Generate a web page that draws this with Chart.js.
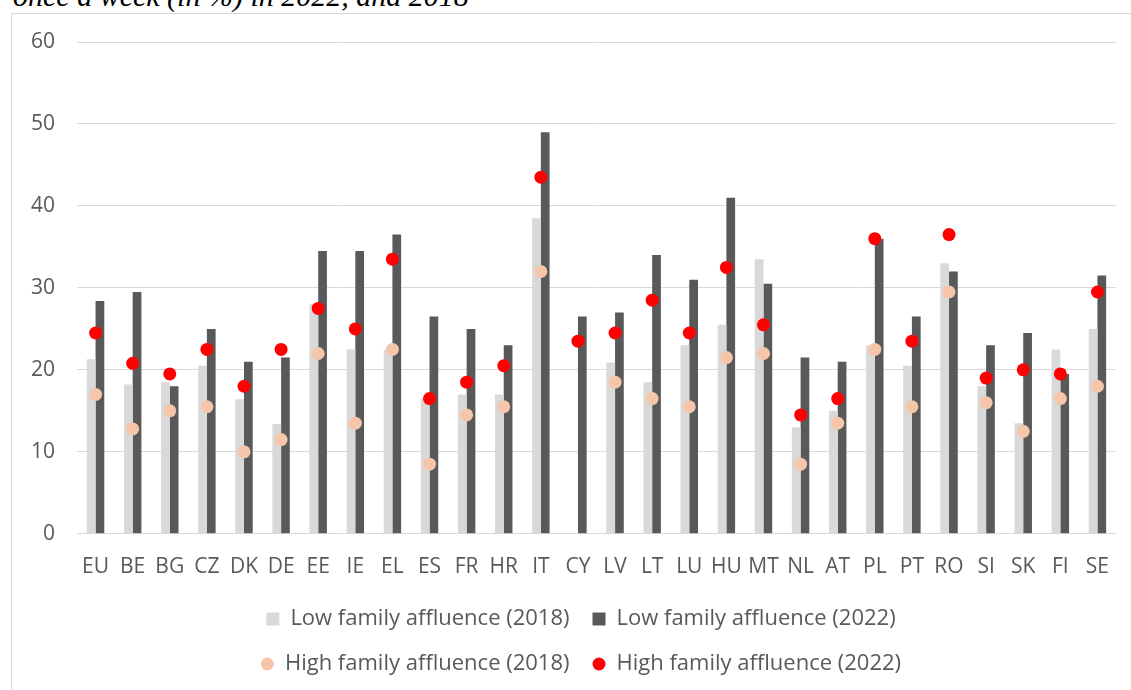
<!DOCTYPE html>
<html>
<head>
<meta charset="utf-8">
<script src="https://cdn.jsdelivr.net/npm/chart.js@4"></script>
<style>
  html, body { margin: 0; padding: 0; background: #fff; overflow: hidden; }
  #title {
    position: absolute; left: 13px; top: -19px;
    font: italic 30px/30px 'Liberation Serif', serif; color: #000; white-space: nowrap;
  }
  #frame {
    position: absolute; left: 11px; top: 13px; right: -5px; bottom: -5px;
    border: 1px solid #d9d9d9;
  }
  #wrap { position: absolute; left: 0; top: 0; width: 1131px; height: 690px; }
</style>
</head>
<body>
<div id="title">once a week (in %) in 2022, and 2018</div>
<div id="frame"></div>
<div id="wrap"><canvas id="chart"></canvas></div>
<script>
// Countries on the x axis
const countries = ['EU', 'BE', 'BG', 'CZ', 'DK', 'DE', 'EE', 'IE', 'EL', 'ES', 'FR', 'HR', 'IT', 'CY',
    'LV', 'LT', 'LU', 'HU', 'MT', 'NL', 'AT', 'PL', 'PT', 'RO', 'SI', 'SK', 'FI', 'SE'];

// Low family affluence (bars)
const low2018 = [21.3, 18.2, 18.5, 20.5, 16.4, 13.4, 28.0, 22.5, 22.5, 16.5, 17.0, 17.0, 38.5, null,
    20.9, 18.5, 23.0, 25.5, 33.5, 13.0, 15.0, 23.0, 20.5, 33.0, 18.0, 13.5, 22.5, 25.0];
const low2022 = [28.4, 29.5, 18.0, 25.0, 21.0, 21.5, 34.5, 34.5, 36.5, 26.5, 25.0, 23.0, 49.0, 26.5,
    27.0, 34.0, 31.0, 41.0, 30.5, 21.5, 21.0, 36.0, 26.5, 32.0, 23.0, 24.5, 19.5, 31.5];

// High family affluence (dots)
const high2018 = [17.0, 12.8, 15.0, 15.5, 10.0, 11.5, 22.0, 13.5, 22.5, 8.5, 14.5, 15.5, 32.0, null,
    18.5, 16.5, 15.5, 21.5, 22.0, 8.5, 13.5, 22.5, 15.5, 29.5, 16.0, 12.5, 16.5, 18.0];
const high2022 = [24.5, 20.8, 19.5, 22.5, 18.0, 22.5, 27.5, 25.0, 33.5, 16.5, 18.5, 20.5, 43.5, 23.5,
    24.5, 28.5, 24.5, 32.5, 25.5, 14.5, 16.5, 36.0, 23.5, 36.5, 19.0, 20.0, 19.5, 29.5];

const yTicks = [0, 10, 20, 30, 40, 50, 60];

Chart.defaults.font.family = "'Open Sans', sans-serif";
Chart.defaults.color = '#595959';

// legend: two items per row, centred under the plot
const LEGEND_W = 800;
const LEGEND_CX = 581;
const LEGEND_H = 78;      // space reserved in the layout
const legendRows = {
    id: 'legendRows',
    beforeUpdate(chart) {
        const lg = chart.legend;
        if (!lg || lg._rowsPatched) return;
        const orig = lg.update;
        lg.update = function (w, h, m) {
            orig.call(this, LEGEND_W, h, m);
            this._fullHeight = this.height;
            this.height = LEGEND_H;
        };
        lg._rowsPatched = true;
    },
    afterLayout(chart) {
        const lg = chart.legend;
        lg.left = LEGEND_CX - LEGEND_W / 2;
        lg.right = lg.left + LEGEND_W;
        lg.width = LEGEND_W;
        lg.top = 585;
        lg.height = lg._fullHeight || 100;
        lg.bottom = lg.top + lg.height;
    }
};

const ctx = document.getElementById('chart').getContext('2d');
new Chart(ctx, {
    type: 'bar',
    data: {
        labels: countries,
        datasets: [
            { label: 'Low family affluence (2018)', data: low2018, backgroundColor: '#d9d9d9', order: 3 },
            { label: 'Low family affluence (2022)', data: low2022, backgroundColor: '#595959', order: 4 },
            {
                type: 'line', label: 'High family affluence (2018)', data: high2018, showLine: false,
                backgroundColor: '#f5c6aa', borderColor: '#f5c6aa', pointRadius: 6.5, pointHoverRadius: 6.5,
                pointBorderWidth: 0, borderWidth: 0, order: 2
            },
            {
                type: 'line', label: 'High family affluence (2022)', data: high2022, showLine: false,
                backgroundColor: '#ff0000', borderColor: '#ff0000', pointRadius: 6.5, pointHoverRadius: 6.5,
                pointBorderWidth: 0, borderWidth: 0, order: 1
            }
        ]
    },
    options: {
        responsive: true,
        maintainAspectRatio: false,
        animation: false,
        layout: { padding: { left: 9, right: 15, top: 42, bottom: 19 } },
        datasets: {
            bar: { categoryPercentage: 0.47, barPercentage: 1 }
        },
        plugins: {
            title: { display: false },
            tooltip: { enabled: false },
            legend: {
                display: true,
                position: 'bottom',
                labels: {
                    font: { size: 22 },
                    color: '#595959',
                    boxWidth: 13,
                    boxHeight: 13,
                    padding: 23,
                    useBorderRadius: true,
                    sort: (a, b) => a.datasetIndex - b.datasetIndex,
                    generateLabels(chart) {
                        const items = Chart.defaults.plugins.legend.labels.generateLabels(chart);
                        items.forEach(it => {
                            const ds = chart.data.datasets[it.datasetIndex];
                            it.borderRadius = ds.type === 'line' ? 6.5 : 0;
                            it.lineWidth = 0;
                        });
                        return items;
                    }
                }
            }
        },
        scales: {
            x: {
                grid: { display: false },
                border: { display: false },
                ticks: { font: { size: 21 }, color: '#595959', padding: 13, maxRotation: 0, autoSkip: false }
            },
            y: {
                min: yTicks[0],
                max: yTicks[yTicks.length - 1],
                afterBuildTicks: axis => { axis.ticks = yTicks.map(v => ({ value: v })); },
                grid: { color: '#d9d9d9', lineWidth: 1, drawTicks: false },
                border: { display: false },
                ticks: { font: { size: 21 }, color: '#595959', padding: 22 }
            }
        }
    },
    plugins: [legendRows]
});
</script>
</body>
</html>
